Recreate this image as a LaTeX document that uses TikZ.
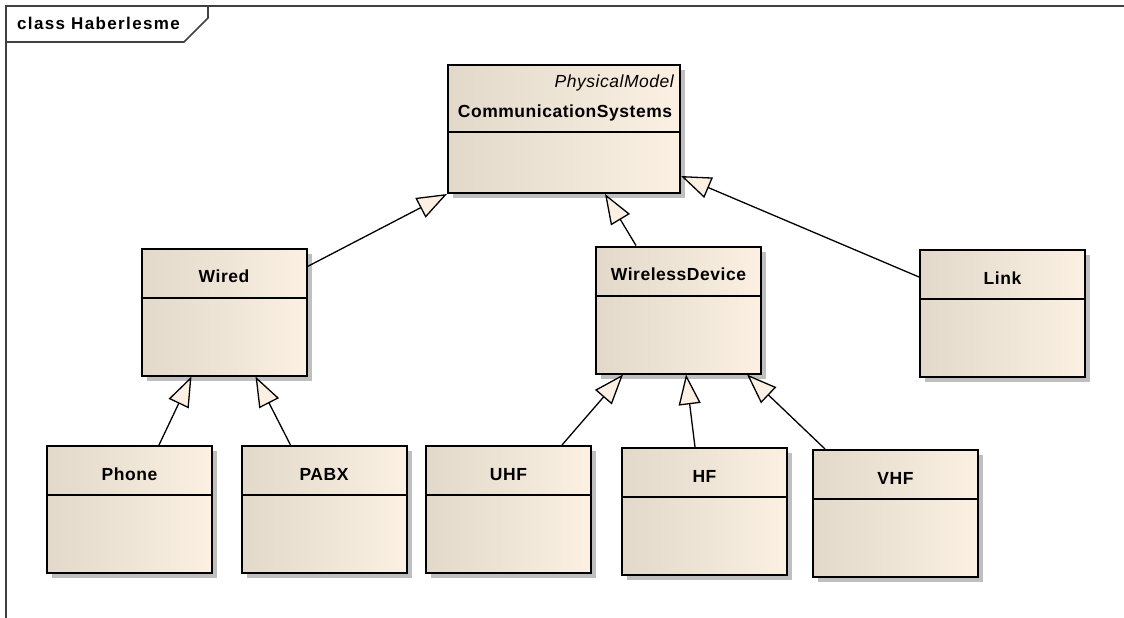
\documentclass[tikz,border=0pt]{standalone}
\usepackage{fontspec}
\setmainfont{Liberation Sans}
\usetikzlibrary{calc,arrows.meta,shadows}
\definecolor{clsleft}{RGB}{226,217,202}
\definecolor{clsright}{RGB}{251,240,225}
\tikzset{
    umlclass/.style= {rectangle, draw, line width=2pt, left color=clsleft, middle color=clsright!70!clsleft, right color=clsright, minimum width=165pt, minimum height=127pt, inner sep=0, drop shadow={shadow xshift=5pt, shadow yshift=-5pt, fill=black!25, opacity=1}},
    clsname/.style= {anchor=base, inner sep=0, font=\fontsize{17.5}{20}\selectfont\bfseries\addfontfeature{LetterSpace=3}},
    inherit/.style= {line width=1.3pt, -{Triangle[fill=clsright, length=30pt, width=22pt]}},
    frame/.style= {line width=1.6pt, black!75}
}

\begin{document}
\begin{tikzpicture}[x=1pt, y=-1pt]
    \useasboundingbox (0,0) rectangle (1124,618);
    % diagram frame and its tab
    \draw[frame] (1124,6) -- (6,6) -- (6,618);
    \draw[frame] (6,42) -- (184,42) -- (208,18) -- (208,6);
    \node[anchor=base west, inner sep=0, font=\fontsize{17}{20}\selectfont\bfseries\addfontfeature{LetterSpace=8}]
        (title) at (17,30) {class Haberlesme};

    \node[umlclass, minimum width=232pt, minimum height=128pt]
        (cs) at (564,129) {};
    \node[umlclass] (wired) at (224,312) {};
    \node[umlclass] (wd) at (678.5,310) {};
    \node[umlclass] (link) at (1002.5,313.5) {};
    \node[umlclass] (phone) at (129.5,509.5) {};
    \node[umlclass] (pabx) at (324,509.5) {};
    \node[umlclass] (uhf) at (508.5,509.5) {};
    \node[umlclass] (hf) at (704.5,511.5) {};
    \node[umlclass] (vhf) at (895.5,513.5) {};

    % compartments and names
    \draw[line width=2pt] ($(cs.north west)+(0,68)$) -- ($(cs.north east)+(0,68)$);
    \node[anchor=base east, inner sep=0, font=\fontsize{17.5}{20}\selectfont\itshape\addfontfeature{LetterSpace=3}]
        (cs-stereo) at ($(cs.north east)+(-7,24)$) {PhysicalModel};
    \node[clsname] (cs-name) at ($(cs.north)+(1,53)$) {CommunicationSystems};
    \foreach \n/\t in {wired/Wired, wd/WirelessDevice, link/Link, phone/Phone, pabx/PABX, uhf/UHF, hf/HF, vhf/VHF} {
        \draw[line width=2pt] ($(\n.north west)+(0,50)$) -- ($(\n.north east)+(0,50)$);
        \node[clsname] (\n-name) at ($(\n.north)+(0,35)$) {\t};
    }

    % generalisations
    \draw[inherit] ($(wired.north east)+(0,19)$) -- (cs.south west);
    \draw[inherit] ($(wd.north west)+(41,0)$) -- ($(cs.south west)+(158,0)$);
    \draw[inherit] ($(link.north west)+(0,28)$) -- ($(cs.north east)+(0,112)$);
    \draw[inherit] ($(phone.north west)+(113,0)$) -- ($(wired.south west)+(51,0)$);
    \draw[inherit] ($(pabx.north west)+(50,0)$) -- ($(wired.south west)+(115,0)$);
    \draw[inherit] ($(uhf.north west)+(137,0)$) -- ($(wd.south west)+(28,0)$);
    \draw[inherit] ($(hf.north west)+(74,0)$) -- ($(wd.south west)+(91,0)$);
    \draw[inherit] ($(vhf.north west)+(13,0)$) -- ($(wd.south west)+(152,0)$);
\end{tikzpicture}
\end{document}
